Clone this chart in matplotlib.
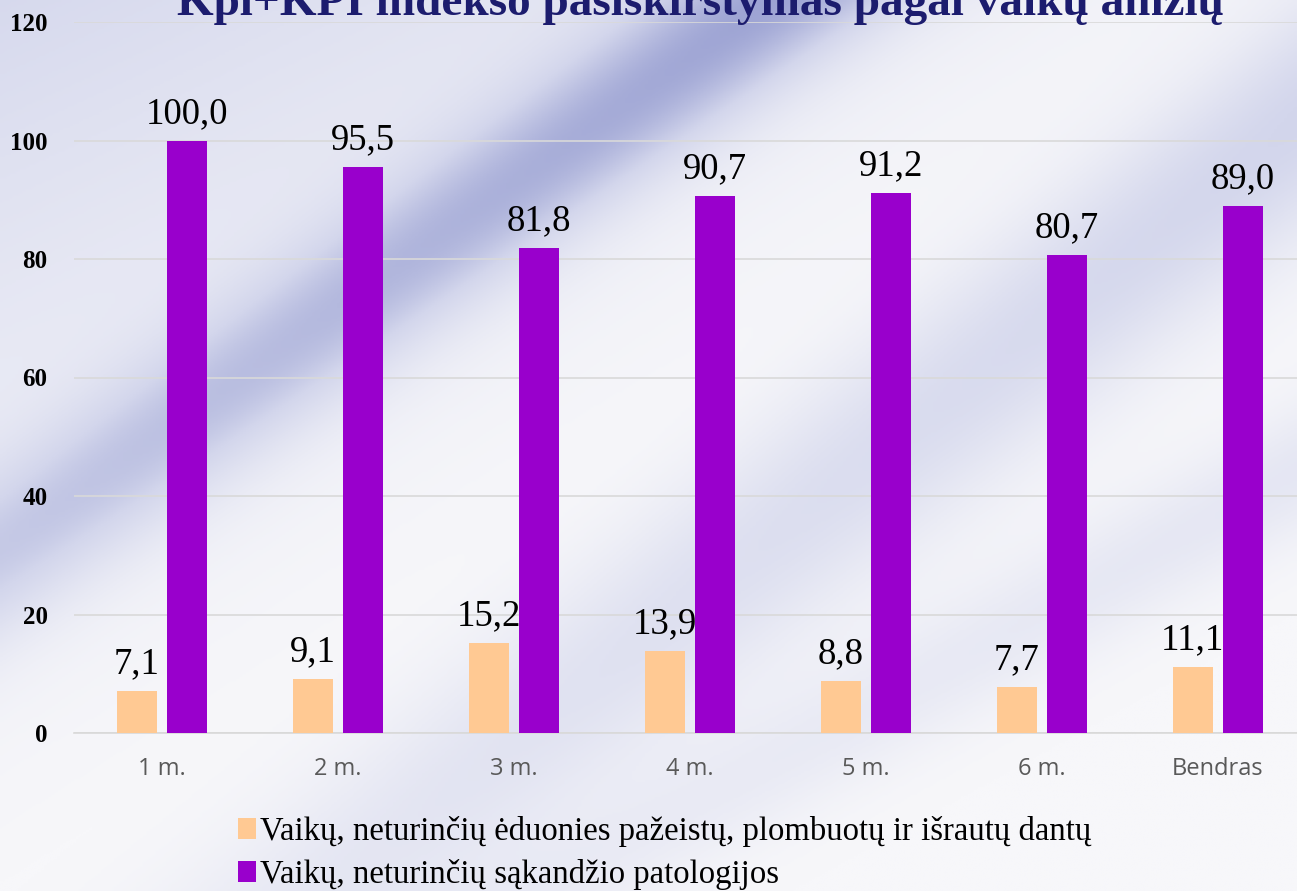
import numpy as np
import matplotlib.pyplot as plt
from matplotlib.colors import LinearSegmentedColormap

categories = ["1 m.", "2 m.", "3 m.", "4 m.", "5 m.", "6 m.", "Bendras"]
be_eduonies = [7.1, 9.1, 15.2, 13.9, 8.8, 7.7, 11.1]
be_sakandzio = [100.0, 95.5, 81.8, 90.7, 91.2, 80.7, 89.0]
label_1 = "Vaikų, neturinčių ėduonies pažeistų, plombuotų ir išrautų dantų"
label_2 = "Vaikų, neturinčių sąkandžio patologijos"
title = "Kpl+KPI indekso pasiskirstymas pagal vaikų amžių"

serif = "Liberation Serif"

fig = plt.figure(figsize=(12.97, 8.91), dpi=100)

# soft lavender background with diagonal blue swooshes (decoration only)
bg = fig.add_axes([0, 0, 1, 1], zorder=-5)
cmap = LinearSegmentedColormap.from_list("lav", ["#f7f7fa", "#d3d6ec", "#959cd0"])
v, u = np.mgrid[0:1:400j, 0:1:400j]  # v = 0 at top


def band(u0, v0, u1, v1, width):
    d = np.abs((v1 - v0) * u - (u1 - u0) * v + u1 * v0 - v1 * u0) / np.hypot(u1 - u0, v1 - v0)
    return np.exp(-(d / width) ** 2)


grad = (0.45 * np.clip(1 - u - v, 0, 1)
        + 0.75 * band(0.0, 0.62, 0.55, 0.05, 0.07)
        + 0.55 * band(0.3, 0.95, 0.95, 0.2, 0.09)
        + 0.35 * band(0.55, 0.9, 1.1, 0.45, 0.06))
grad = np.clip(grad * (1 - 0.55 * v), 0, 1)
bg.imshow(grad, cmap=cmap, vmin=0, vmax=1, extent=[0, 1, 0, 1],
          origin="upper", aspect="auto")
bg.set_xlim(0, 1)
bg.set_ylim(0, 1)
bg.set_axis_off()

ax = fig.add_axes([74 / 1297, 158 / 891, 1 - 74 / 1297, 711 / 891])
ax.patch.set_alpha(0)

x = np.arange(len(categories))
w = 0.227
b1 = ax.bar(x - 0.142, be_eduonies, w, color="#ffc993", label=label_1, zorder=3)
b2 = ax.bar(x + 0.142, be_sakandzio, w, color="#9900cc", label=label_2, zorder=3)

for bars, vals in ((b1, be_eduonies), (b2, be_sakandzio)):
    for r, val in zip(bars, vals):
        ax.annotate(f"{val:.1f}".replace(".", ","), (r.get_x() + r.get_width() / 2, val),
                    xytext=(0, 7), textcoords="offset points", ha="center", va="bottom",
                    fontsize=26.5, family=serif, color="black", zorder=4)

ax.set_ylim(0, 120)
ax.set_xlim(-0.5, 6.45)
ax.set_yticks(range(0, 121, 20))
ax.set_xticks(x)
ax.set_xticklabels(categories, family="Open Sans", fontsize=17, color="#595959")
for t in ax.get_yticklabels():
    t.set_family(serif)
    t.set_fontweight("bold")
    t.set_fontsize(18)
ax.tick_params(axis="y", length=0, pad=19)
ax.tick_params(axis="x", length=0, pad=17)
ax.grid(axis="y", color="#d9d9d9", linewidth=1.2, zorder=0)
for s in ["top", "right", "left"]:
    ax.spines[s].set_visible(False)
ax.spines["bottom"].set_color("#d9d9d9")
ax.spines["bottom"].set_linewidth(1.2)

fig.text(0.54, 1 - 15 / 891, title, ha="center", va="baseline", fontsize=34,
         family=serif, fontweight="bold", color="#1c1c6e")

fig.legend(handles=[b1, b2], loc="upper left", bbox_to_anchor=(222 / 1297, 1 - 800 / 891),
           frameon=False, prop={"family": serif, "size": 23.6}, handlelength=0.55,
           handleheight=0.6, handletextpad=0.12, labelspacing=0.35, borderpad=0)

fig.savefig("out.png", dpi=100)
